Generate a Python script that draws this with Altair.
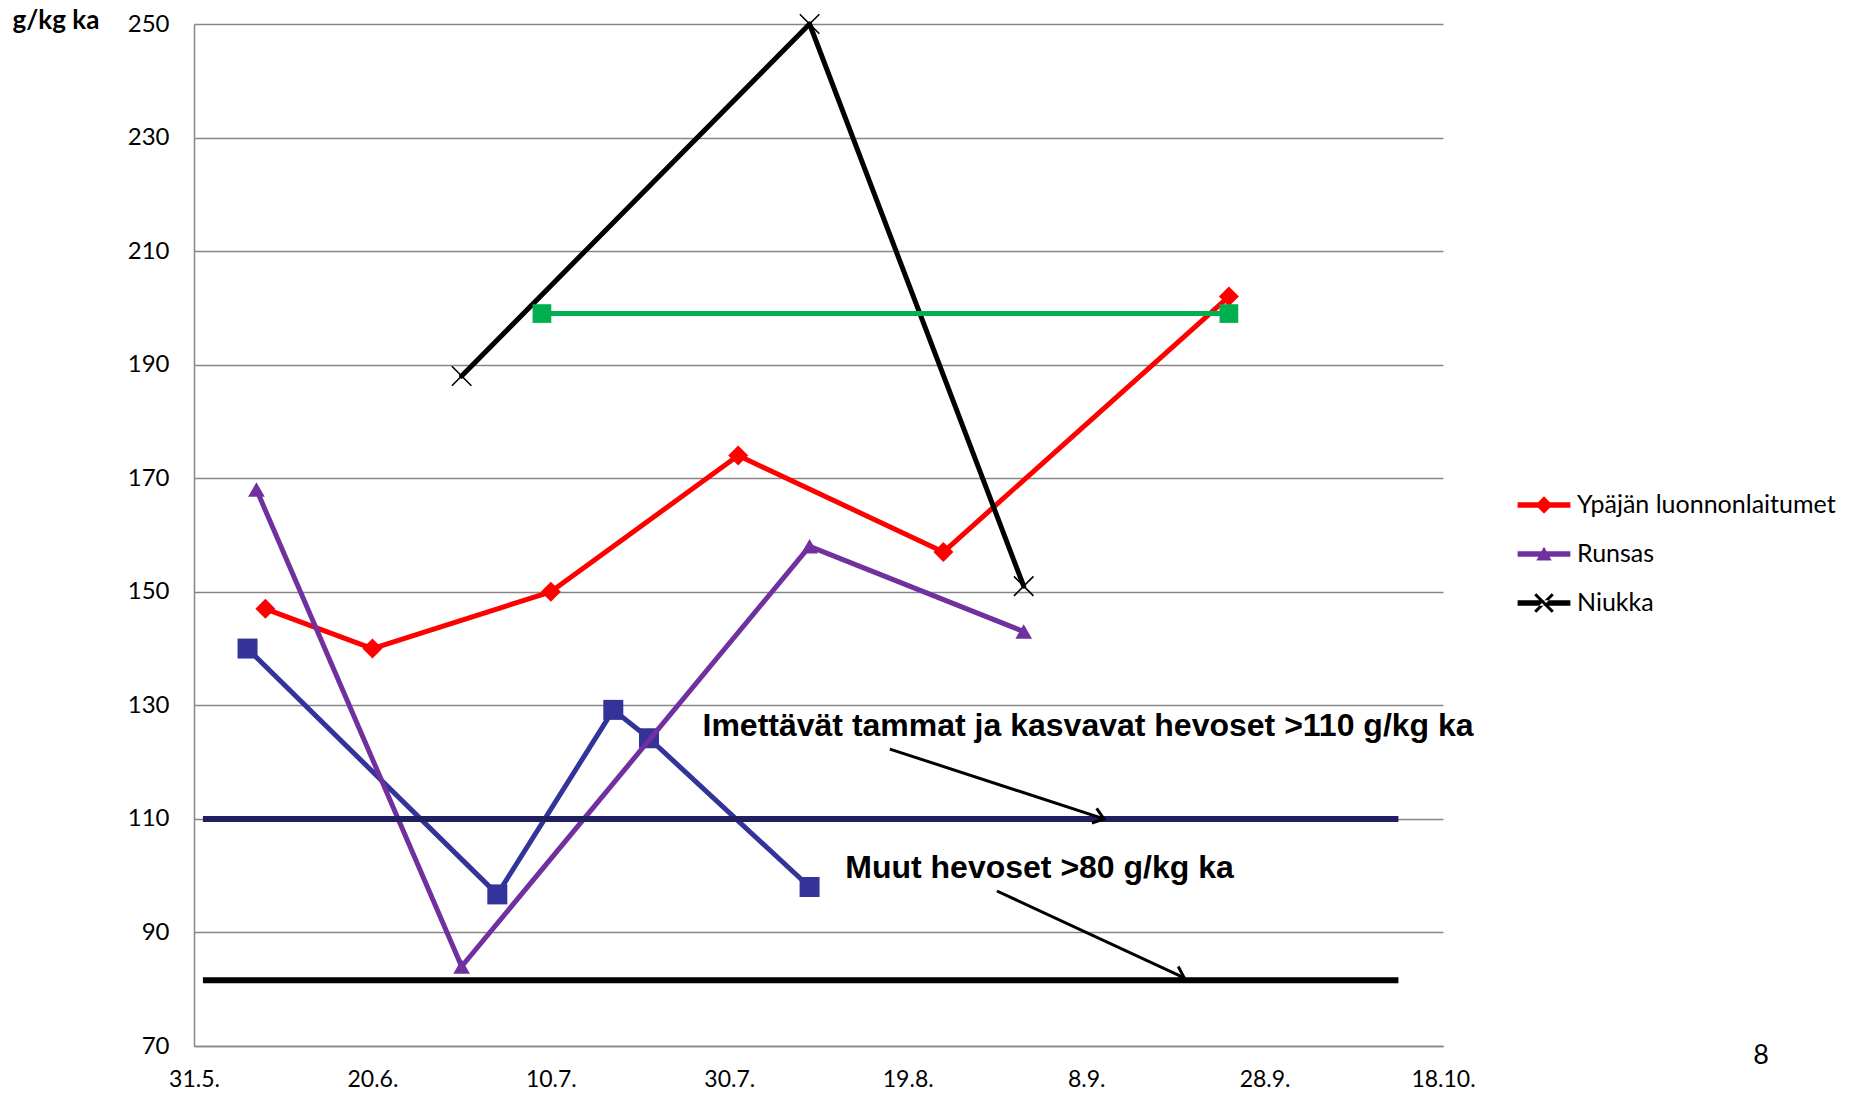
import math
import altair as alt
import pandas as pd

YEAR = "2010"

# Crude protein content of pasture grass, g/kg dry matter (ka), by sampling date (month-day)
ypaja_dates = ["06-08", "06-20", "07-10", "07-31", "08-23", "09-24"]
ypaja_values = [147, 140, 150, 174, 157, 202]

runsas_dates = ["06-07", "06-30", "08-08", "09-01"]
runsas_values = [168, 84, 158, 143]

niukka_dates = ["06-30", "08-08", "09-01"]
niukka_values = [188, 250, 151]

sininen_dates = ["06-06", "07-04", "07-17", "07-21", "08-08"]
sininen_values = [140, 96.7, 129.2, 124.2, 98]

vihrea_dates = ["07-09", "09-24"]
vihrea_values = [199, 199]

# Recommended minimum levels
threshold_values = [110, 81.6]
threshold_start = "06-01"
threshold_end = "10-13"

# Annotation texts and their arrows
note_texts = ["Imettävät tammat ja kasvavat hevoset >110 g/kg ka", "Muut hevoset >80 g/kg ka"]
note_dates = ["07-27", "08-12"]
note_values = [126.3, 101.3]
arrow_start_dates = ["08-17", "08-29"]
arrow_start_values = [122.3, 97.3]
arrow_end_dates = ["09-10", "09-19"]
arrow_end_values = [110, 82]

x_tick_dates = ["05-31", "06-20", "07-10", "07-30", "08-19", "09-08", "09-28", "10-18"]
y_ticks = [70, 90, 110, 130, 150, 170, 190, 210, 230, 250]

W, H = 1249, 1022
X_START, X_END = "05-31", "10-18"
Y_MIN, Y_MAX = 70, 250

GRID = "#868686"


def iso(md):
    return f"{YEAR}-{md}"


def dt(md):
    m, d = md.split("-")
    return alt.DateTime(year=int(YEAR), month=int(m), date=int(d), utc=True)


def day_offset(md):
    return (pd.Timestamp(iso(md)) - pd.Timestamp(iso(X_START))).days


x_scale = alt.Scale(type="utc", domain=[dt(X_START), dt(X_END)], nice=False)
y_scale = alt.Scale(domain=[Y_MIN, Y_MAX], nice=False, zero=False)

x_axis = alt.Axis(
    values=[dt(v) for v in x_tick_dates],
    labelExpr="utcFormat(datum.value, '%-d.%-m.')",
    grid=False, ticks=False, domainColor=GRID, domainWidth=1.5,
    labelFont="Lato", labelFontSize=23, labelColor="black", labelPadding=22,
    labelFlush=False, labelOverlap=False, title=None,
)
y_axis = alt.Axis(
    values=y_ticks, grid=True, gridColor=GRID, gridWidth=1.5,
    ticks=False, domainColor=GRID, domainWidth=1.5,
    labelFont="Lato", labelFontSize=24, labelColor="black", labelPadding=25,
    title="g/kg ka", titleAngle=0, titleX=-182, titleY=-4, titleAlign="left",
    titleBaseline="middle", titleFont="Lato", titleFontSize=26, titleFontWeight="bold",
    titleColor="black",
)

x_enc = alt.X("date:T", scale=x_scale, axis=x_axis)
y_enc = alt.Y("value:Q", scale=y_scale, axis=y_axis)

X_PATH = "M-1,-1L1,1M-1,1L1,-1"

# name, dates, values, colour, marker shape, marker size, filled
series = [
    ("Sininen", sininen_dates, sininen_values, "#333399", "square", 400, True),
    ("Ypäjän luonnonlaitumet", ypaja_dates, ypaja_values, "#FF0000", "diamond", 400, True),
    ("Runsas", runsas_dates, runsas_values, "#7030A0", "triangle-up", 280, True),
    ("Niukka", niukka_dates, niukka_values, "#000000", X_PATH, 380, False),
    ("Vihreä", vihrea_dates, vihrea_values, "#00B050", "square", 350, True),
]

layers = []
frames = {}
for name, dates, values, color, shape, size, filled in series:
    df = pd.DataFrame({"series": name, "date": [iso(d) for d in dates], "value": values})
    frames[name] = df
    layers.append(
        alt.Chart(df).mark_line(color=color, strokeWidth=5, strokeJoin="round", strokeCap="round")
        .encode(x=x_enc, y=y_enc)
    )
    if filled:
        pts = alt.Chart(df).mark_point(shape=shape, size=size, filled=True, color=color, opacity=1)
    else:
        pts = alt.Chart(df).mark_point(shape=shape, size=size, filled=False, color=color,
                                       strokeWidth=1.6, opacity=1)
    layers.append(pts.encode(x=x_enc, y=y_enc))

# threshold lines
threshold_colors = ["#202060", "#000000"]
for val, col in zip(threshold_values, threshold_colors):
    tdf = pd.DataFrame({"date": [iso(threshold_start)], "end": [iso(threshold_end)], "value": [val]})
    layers.append(
        alt.Chart(tdf).mark_rule(color=col, strokeWidth=6)
        .encode(x=x_enc, x2="end:T", y=y_enc)
    )

# arrows
px_day = W / day_offset(X_END)
px_unit = H / (Y_MAX - Y_MIN)
angles = []
for sd, sv, ed, ev in zip(arrow_start_dates, arrow_start_values, arrow_end_dates, arrow_end_values):
    dx = (day_offset(ed) - day_offset(sd)) * px_day
    dy = (sv - ev) * px_unit
    angles.append(math.degrees(math.atan2(dy, dx)))

arrow_df = pd.DataFrame({
    "date": [iso(d) for d in arrow_start_dates],
    "value": arrow_start_values,
    "end_date": [iso(d) for d in arrow_end_dates],
    "end_value": arrow_end_values,
    "angle": angles,
})
layers.append(
    alt.Chart(arrow_df).mark_rule(color="black", strokeWidth=3)
    .encode(x=x_enc, y=y_enc, x2="end_date:T", y2="end_value:Q")
)
layers.append(
    alt.Chart(arrow_df).mark_point(shape="M-1,-0.75L0,0L-1,0.75", size=420, filled=False,
                                   color="black", strokeWidth=3, opacity=1)
    .encode(x=alt.X("end_date:T", scale=x_scale, axis=x_axis),
            y=alt.Y("end_value:Q", scale=y_scale, axis=y_axis),
            angle=alt.Angle("angle:Q", scale=None))
)

note_df = pd.DataFrame({"date": [iso(d) for d in note_dates], "value": note_values, "text": note_texts})
layers.append(
    alt.Chart(note_df).mark_text(font="Liberation Sans", fontWeight="bold", fontSize=32,
                                 align="left", baseline="middle", color="black")
    .encode(x=x_enc, y=y_enc, text="text:N")
)

# legend: line + marker glyphs for the three named series
legend_names = ["Ypäjän luonnonlaitumet", "Runsas", "Niukka"]
legend_colors = ["#FF0000", "#7030A0", "#000000"]
LINE = "M-1.1,-0.115L1.1,-0.115L1.1,0.115L-1.1,0.115Z"
legend_paths = [
    LINE + "M0,-0.36L0.36,0L0,0.36L-0.36,0Z",
    LINE + "M0,-0.3L0.32,0.27L-0.32,0.27Z",
    LINE + "M-0.32,-0.41L0.41,0.32L0.32,0.41L-0.41,-0.32Z"
         + "M-0.32,0.41L0.41,-0.32L0.32,-0.41L-0.41,0.32Z",
]
legend_df = pd.concat([frames[n].head(1) for n in legend_names], ignore_index=True)
legend = alt.Legend(
    title=None, orient="none", legendX=1326, legendY=457, padding=0,
    symbolSize=2304, symbolStrokeWidth=0, symbolOpacity=1,
    labelFont="Lato", labelFontSize=25, labelColor="black", labelOffset=9,
    labelLimit=0, rowPadding=12,
)
layers.append(
    alt.Chart(legend_df).mark_point(filled=True, opacity=0)
    .encode(
        x=x_enc, y=y_enc,
        color=alt.Color("series:N", scale=alt.Scale(domain=legend_names, range=legend_colors), legend=legend),
        shape=alt.Shape("series:N", scale=alt.Scale(domain=legend_names, range=legend_paths), legend=legend),
    )
)

# slide number
layers.append(
    alt.Chart(pd.DataFrame({"label": ["8"]})).mark_text(font="Lato", fontSize=27, color="black",
                                                       align="center", baseline="middle")
    .encode(x=alt.value(1567), y=alt.value(1032), text="label:N")
)

chart = alt.layer(*layers).properties(
    width=W, height=H,
    padding={"left": 194, "top": 24, "right": 412, "bottom": 48},
    autosize=alt.AutoSizeParams(type="none"),
    background="white",
).configure_view(stroke=None)

chart.save("out.html", embed_options={"renderer": "svg", "actions": False})
